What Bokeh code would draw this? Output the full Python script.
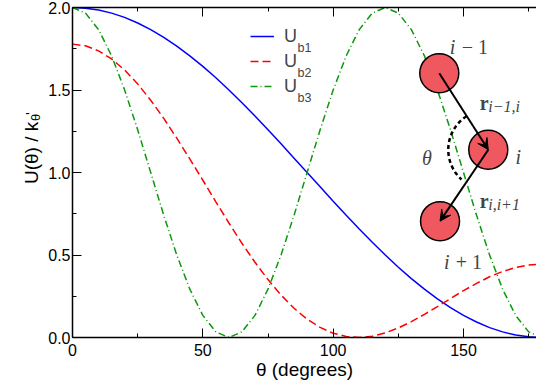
from bokeh.plotting import figure
from bokeh.layouts import row
from bokeh.models import (Range1d, LinearAxis, FixedTicker, PrintfTickFormatter,
                          Legend, LegendItem, Label, Arrow, VeeHead)
from bokeh.core.properties import value
from bokeh.embed import file_html
from bokeh.resources import INLINE

# ---------------- data ----------------
theta_deg = [0, 5, 10, 15, 20, 25, 30, 35, 40, 45, 50, 55, 60, 65, 70, 75, 80, 85, 90,
             95, 100, 105, 110, 115, 120, 125, 130, 135, 140, 145, 150, 155, 160, 165,
             170, 175, 180]
U_b1 = [2.000, 1.996, 1.985, 1.966, 1.940, 1.906, 1.866, 1.819, 1.766, 1.707, 1.643,
        1.574, 1.500, 1.423, 1.342, 1.259, 1.174, 1.087, 1.000, 0.913, 0.826, 0.741,
        0.658, 0.577, 0.500, 0.426, 0.357, 0.293, 0.234, 0.181, 0.134, 0.094, 0.060,
        0.034, 0.015, 0.004, 0.000]
U_b2 = [1.778, 1.768, 1.737, 1.688, 1.621, 1.537, 1.438, 1.328, 1.208, 1.082, 0.953,
        0.822, 0.694, 0.571, 0.456, 0.351, 0.257, 0.177, 0.111, 0.061, 0.026, 0.006,
        0.000, 0.008, 0.028, 0.058, 0.096, 0.140, 0.187, 0.236, 0.284, 0.328, 0.368,
        0.400, 0.424, 0.439, 0.444]
U_b3 = [2.000, 1.966, 1.866, 1.707, 1.500, 1.259, 1.000, 0.741, 0.500, 0.293, 0.134,
        0.034, 0.000, 0.034, 0.134, 0.293, 0.500, 0.741, 1.000, 1.259, 1.500, 1.707,
        1.866, 1.966, 2.000, 1.966, 1.866, 1.707, 1.500, 1.259, 1.000, 0.741, 0.500,
        0.293, 0.134, 0.034, 0.000]

series_names = ["U", "U", "U"]
series_subs = ["b1", "b2", "b3"]

x_ticks = [0, 50, 100, 150]
x_minor = [25, 75, 125, 175]
y_ticks = [0.0, 0.5, 1.0, 1.5, 2.0]
y_minor = [0.25, 0.75, 1.25, 1.75]

x_title = "θ (degrees)"
y_title = "U(θ) / k"
y_title_sub = "θ"
y_title_sup = "'"

# illustration (bead chain) anchors, in axis units
bead_x = [140.7, 159.5, 141.0]
bead_y = [1.602, 1.138, 0.705]

SANS = "Liberation Sans"
SERIF = "Liberation Serif"

STRIP_W = 45   # width of the strip that holds the y-axis title

# ---------------- main figure ----------------
p = figure(width=536 - STRIP_W, height=387, x_range=Range1d(0, 178), y_range=Range1d(0, 2),
           output_backend="svg", toolbar_location=None, title_location=None,
           min_border_left=70 - STRIP_W, min_border_right=0, min_border_top=7,
           min_border_bottom=50)
p.outline_line_color = None
p.xgrid.visible = False
p.ygrid.visible = False
p.background_fill_color = "white"
p.border_fill_color = "white"

def style_axis(ax, labels=True):
    ax.axis_line_color = "black"
    ax.axis_line_width = 1.5
    ax.major_tick_line_color = "black"
    ax.minor_tick_line_color = "black"
    ax.major_tick_line_width = 1
    ax.minor_tick_line_width = 1
    ax.major_tick_in = 9
    ax.major_tick_out = 0
    ax.minor_tick_in = 4
    ax.minor_tick_out = 0
    if labels:
        ax.major_label_text_font = SANS
        ax.major_label_text_font_size = "16px"
        ax.major_label_text_color = "black"
    else:
        ax.major_label_text_font_size = "1px"
        ax.major_label_text_alpha = 0
        ax.major_label_standoff = 0

xa = p.xaxis[0]
xa.ticker = FixedTicker(ticks=x_ticks, minor_ticks=x_minor)
style_axis(xa)
xa.major_label_standoff = 6
xa.axis_label = x_title
xa.axis_label_text_font = SANS
xa.axis_label_text_font_size = "19px"
xa.axis_label_text_font_style = "normal"
xa.axis_label_text_color = "black"
xa.axis_label_standoff = 0

ya = p.yaxis[0]
ya.ticker = FixedTicker(ticks=y_ticks, minor_ticks=y_minor)
ya.formatter = PrintfTickFormatter(format="%.1f")
style_axis(ya)
ya.major_label_standoff = 2

top = LinearAxis(ticker=FixedTicker(ticks=x_ticks, minor_ticks=x_minor))
style_axis(top, labels=False)
p.add_layout(top, "above")

# ---------------- curves ----------------
r1 = p.line(theta_deg, U_b1, line_color="#0000ff", line_width=1.5)
r2 = p.line(theta_deg, U_b2, line_color="#ff0000", line_width=1.5, line_dash="8 4")
r3 = p.line(theta_deg, U_b3, line_color="#0a990a", line_width=1.5, line_dash="7 3 1 3")

legend = Legend(items=[LegendItem(label=series_names[i], renderers=[r])
                       for i, r in enumerate([r1, r2, r3])],
                location=(178, 239), padding=0, margin=0, spacing=1,
                glyph_width=24, glyph_height=24, label_height=24, label_standoff=10,
                border_line_color=None, background_fill_alpha=0,
                label_text_font=SANS, label_text_font_size="18px")
p.add_layout(legend)

def dx(px):   # reference pixel column -> axis units
    return (px - 70) / 2.618

def dy(py):   # reference pixel row -> axis units
    return 2 - (py - 7) / 165.0

for i, s in enumerate(series_subs):
    p.add_layout(Label(x=dx(296), y=dy(47 + 25 * i), text=s, text_font=SANS,
                       text_font_size="12.5px", text_baseline="alphabetic",
                       text_align="left"))

# ---------------- illustration ----------------
p.scatter(bead_x, bead_y, size=39, marker="circle", fill_color="#f0585f",
          line_color="black", line_width=1.5)
p.arc(x=[bead_x[1]], y=[bead_y[1]], radius=40, radius_units="screen",
      start_angle=123, end_angle=228, start_angle_units="deg", end_angle_units="deg",
      direction="anticlock", line_color="black", line_width=2.5, line_dash="4 3")
for a, b in [(0, 1), (1, 2)]:
    p.add_layout(Arrow(end=VeeHead(size=11, fill_color="black", line_color="black"),
                       x_start=bead_x[a], y_start=bead_y[a], x_end=bead_x[b], y_end=bead_y[b],
                       line_color="black", line_width=2))

def mlabel(px, py, text, size=20, style="italic"):
    p.add_layout(Label(x=dx(px), y=dy(py), text=text, text_font=SERIF,
                       text_font_size=f"{size}px", text_font_style=style,
                       text_align="left", text_baseline="alphabetic"))

mlabel(449, 46, "i")
mlabel(461, 46, "− 1", style="normal")
mlabel(515, 156, "i")
mlabel(443, 261, "i")
mlabel(455, 261, "+ 1", style="normal")
mlabel(421, 157, "θ")
mlabel(479, 102, "r", style="bold")
mlabel(487.5, 106, "i−1,i", size=16)
mlabel(479, 200, "r", style="bold")
mlabel(487.5, 204, "i,i+1", size=16)

# ---------------- y-axis title strip ----------------
yl = figure(width=STRIP_W, height=387, x_range=Range1d(0, STRIP_W), y_range=Range1d(0, 387),
            output_backend="svg", toolbar_location=None, title_location=None,
            x_axis_location=None, y_axis_location=None,
            min_border_left=0, min_border_right=0, min_border_top=0, min_border_bottom=0)
yl.outline_line_color = None
yl.xgrid.visible = False
yl.ygrid.visible = False
ANCHOR_X, ANCHOR_Y = 31.0, 387 - 207
yl.text(x=[ANCHOR_X], y=[ANCHOR_Y], text=[y_title], angle=90, angle_units="deg",
        text_font=value(SANS), text_font_size="19px", text_align="left",
        text_baseline="alphabetic", text_color="black")
yl.text(x=[ANCHOR_X], y=[ANCHOR_Y], x_offset=4, y_offset=-63, text=[y_title_sub],
        angle=90, angle_units="deg",
        text_font=value(SANS), text_font_size="13px", text_align="left",
        text_baseline="alphabetic", text_color="black")
yl.text(x=[ANCHOR_X], y=[ANCHOR_Y], x_offset=-1.5, y_offset=-69, text=[y_title_sup],
        angle=90, angle_units="deg",
        text_font=value(SANS), text_font_size="15px", text_align="left",
        text_baseline="alphabetic", text_color="black")

layout = row(yl, p)
open("out.html", "w").write(file_html(layout, INLINE))
